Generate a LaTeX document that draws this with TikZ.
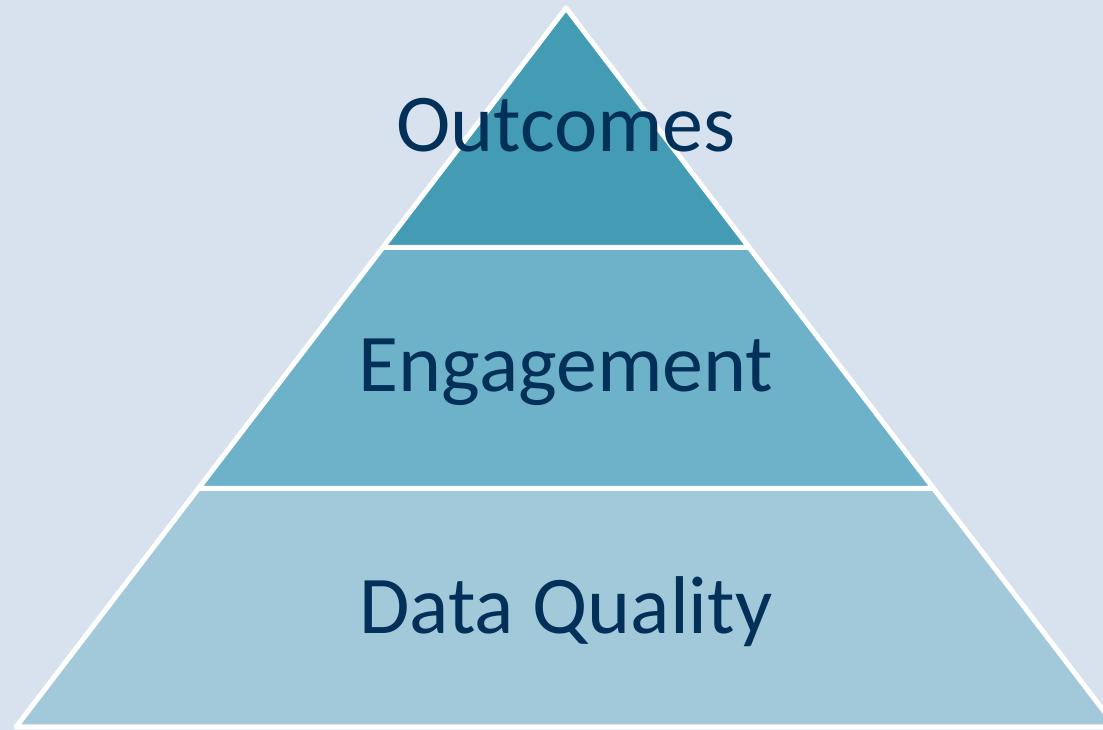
\documentclass[tikz,border=0pt]{standalone}
\usepackage{fontspec}
\setmainfont{Carlito}
\definecolor{bgc}{HTML}{D7E2EE}
\definecolor{topc}{HTML}{439CB4}
\definecolor{midc}{HTML}{6EB2C9}
\definecolor{botc}{HTML}{A1C9D9}
\definecolor{txtc}{HTML}{033059}
\tikzset{
  layer/.style={draw=white, line width=5pt, line join=round},
  lbl/.style={text=txtc, anchor=base, inner sep=0pt, font=\fontsize{82}{90}\selectfont}
}
\begin{document}
\begin{tikzpicture}[x=1pt,y=1pt]
\useasboundingbox (0,0) rectangle (1103,730);
\clip (0,0) rectangle (1103,730);
\fill[bgc] (0,0) rectangle (1103,730);
% bottom layer
\path[layer, fill=botc] (16,3) -- (1116,3) -- (933.6,241.5) -- (198.4,241.5) -- cycle;
% middle layer
\path[layer, fill=midc] (198.4,241.5) -- (933.6,241.5) -- (749.2,482.5) -- (382.8,482.5) -- cycle;
% top layer
\path[layer, fill=topc] (382.8,482.5) -- (749.2,482.5) -- (566,722) -- cycle;
\node[lbl] (outcomes) at (566,578) {Outcomes};
\node[lbl] (engagement) at (566,338) {Engagement};
\node[lbl] (dataquality) at (566,96) {Data Quality};
\end{tikzpicture}
\end{document}
